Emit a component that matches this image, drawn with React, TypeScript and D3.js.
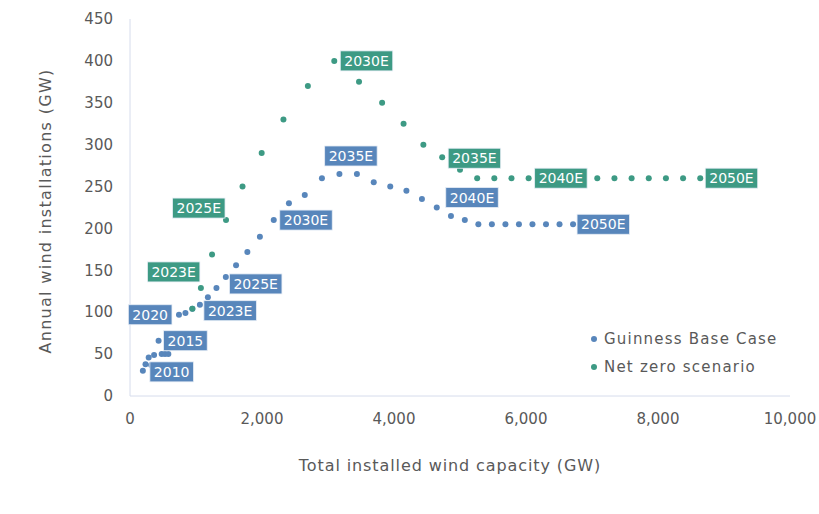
import React, { useEffect, useRef } from 'react';
import * as d3 from 'd3';

// Guinness Base Case: year, total installed capacity (GW), annual installations (GW)
const baseYears = ['2010', '2011', '2012', '2013', '2014', '2015', '2016', '2017', '2018', '2019', '2020', '2021', '2022',
  '2023E', '2024E', '2025E', '2026E', '2027E', '2028E', '2029E', '2030E', '2031E', '2032E', '2033E', '2034E', '2035E',
  '2036E', '2037E', '2038E', '2039E', '2040E', '2041E', '2042E', '2043E', '2044E', '2045E', '2046E', '2047E', '2048E',
  '2049E', '2050E'];
const baseCapacity = [195, 235, 283, 320, 365, 433, 480, 530, 581, 641, 742, 840, 945,
  1059, 1180, 1310, 1452, 1607, 1778, 1968, 2178, 2408, 2648, 2908, 3173, 3438,
  3693, 3943, 4188, 4423, 4648, 4863, 5073, 5278, 5483, 5688, 5893, 6098, 6303, 6508, 6713];
const baseInstalls = [30, 38, 46, 37, 49, 66, 50, 50, 50, 60, 97, 99, 104,
  109, 118, 129, 142, 156, 172, 190, 210, 230, 240, 260, 265, 265,
  255, 250, 245, 235, 225, 215, 210, 205, 205, 205, 205, 205, 205, 205, 205];

// Net zero scenario
const nzYears = ['2022', '2023E', '2024E', '2025E', '2026E', '2027E', '2028E', '2029E', '2030E', '2031E', '2032E',
  '2033E', '2034E', '2035E', '2036E', '2037E', '2038E', '2039E', '2040E', '2041E', '2042E', '2043E', '2044E',
  '2045E', '2046E', '2047E', '2048E', '2049E', '2050E'];
const nzCapacity = [945, 1074, 1243, 1455, 1705, 1995, 2325, 2695, 3095, 3470, 3820,
  4145, 4445, 4730, 5000, 5260, 5520, 5780, 6040, 6300, 6560, 6820, 7080,
  7340, 7600, 7860, 8120, 8380, 8640];
const nzInstalls = [104, 129, 169, 210, 250, 290, 330, 370, 400, 375, 350,
  325, 300, 285, 270, 260, 260, 260, 260, 260, 260, 260, 260,
  260, 260, 260, 260, 260, 260];

const yTicks = [0, 50, 100, 150, 200, 250, 300, 350, 400, 450];
const xTicks = [0, 2000, 4000, 6000, 8000, 10000];

// labelled years and where the label box sits relative to the point
// side: 'r' = box left edge at dx, 'l' = box right edge at dx, 'c' = centred at dx
const baseLabels = [
  { year: '2010', side: 'r', dx: 7, dy: 1 },
  { year: '2015', side: 'r', dx: 5, dy: 0 },
  { year: '2020', side: 'l', dx: -7, dy: 0 },
  { year: '2023E', side: 'r', dx: 4, dy: 6 },
  { year: '2025E', side: 'r', dx: 13, dy: -4 },
  { year: '2030E', side: 'r', dx: 6, dy: 0 },
  { year: '2035E', side: 'c', dx: -6, dy: -18 },
  { year: '2040E', side: 'r', dx: 9, dy: -10 },
  { year: '2050E', side: 'r', dx: 4, dy: 0 },
];
const nzLabels = [
  { year: '2023E', side: 'l', dx: -1, dy: -16 },
  { year: '2025E', side: 'l', dx: -1, dy: -12 },
  { year: '2030E', side: 'r', dx: 6, dy: 0 },
  { year: '2035E', side: 'r', dx: 6, dy: 1 },
  { year: '2040E', side: 'r', dx: 6, dy: 0 },
  { year: '2050E', side: 'r', dx: 5, dy: 0 },
];

const BLUE = '#5886bb';
const GREEN = '#3d9a84';
const FONT = '"DejaVu Sans", sans-serif';
const GREY = '#595959';

export default function App() {
  const ref = useRef<SVGSVGElement>(null);

  useEffect(() => {
    const svg = d3.select(ref.current);
    svg.selectAll('*').remove();

    const x = d3.scaleLinear().domain([0, 10000]).range([130, 790]);
    const y = d3.scaleLinear().domain([0, 450]).range([396, 19]);

    // axis lines
    svg.append('line').attr('x1', 130).attr('x2', 130).attr('y1', y(450)).attr('y2', y(0))
      .attr('stroke', '#d6dcec').attr('stroke-width', 1);
    svg.append('line').attr('x1', 130).attr('x2', x(10000)).attr('y1', y(0)).attr('y2', y(0))
      .attr('stroke', '#d6dcec').attr('stroke-width', 1);

    svg.append('g').selectAll('text').data(yTicks).enter().append('text')
      .attr('x', 113).attr('y', d => y(d)).attr('dy', '0.35em')
      .attr('text-anchor', 'end').attr('font-size', 15).attr('fill', GREY)
      .attr('font-family', FONT).text(d => d);

    svg.append('g').selectAll('text').data(xTicks).enter().append('text')
      .attr('x', d => x(d)).attr('y', 419).attr('dy', '0.35em')
      .attr('text-anchor', 'middle').attr('font-size', 15).attr('fill', GREY)
      .attr('font-family', FONT).text(d => d3.format(',')(d));

    svg.append('text').attr('x', 450).attr('y', 465).attr('dy', '0.35em')
      .attr('text-anchor', 'middle').attr('font-size', 16).attr('fill', GREY)
      .attr('letter-spacing', 0.9)
      .attr('font-family', FONT).text('Total installed wind capacity (GW)');

    svg.append('text').attr('transform', 'translate(45,211) rotate(-90)').attr('dy', '0.35em')
      .attr('text-anchor', 'middle').attr('font-size', 16).attr('fill', GREY)
      .attr('letter-spacing', 1.3)
      .attr('font-family', FONT).text('Annual wind installations (GW)');

    const series = [
      { years: baseYears, xs: baseCapacity, ys: baseInstalls, color: BLUE, labels: baseLabels },
      { years: nzYears, xs: nzCapacity, ys: nzInstalls, color: GREEN, labels: nzLabels },
    ];

    series.forEach(s => {
      svg.append('g').selectAll('circle').data(s.years).enter().append('circle')
        .attr('cx', (_, i) => x(s.xs[i])).attr('cy', (_, i) => y(s.ys[i]))
        .attr('r', 3).attr('fill', s.color);
    });

    series.forEach(s => {
      s.labels.forEach(l => {
        const i = s.years.indexOf(l.year);
        const px = x(s.xs[i]);
        const py = y(s.ys[i]) + l.dy;
        const g = svg.append('g');
        const rect = g.append('rect').attr('fill', s.color).attr('stroke', '#e8eef6').attr('stroke-width', 0.8);
        const t = g.append('text').attr('font-size', 14).attr('fill', '#fff')
          .attr('font-family', FONT).attr('dy', '0.36em').attr('text-anchor', 'middle').text(l.year);
        const w = (t.node() as SVGTextElement).getComputedTextLength() + 8;
        const h = 20;
        let cx = px + l.dx;
        if (l.side === 'r') cx = px + l.dx + w / 2;
        if (l.side === 'l') cx = px + l.dx - w / 2;
        t.attr('x', cx).attr('y', py);
        rect.attr('x', cx - w / 2).attr('y', py - h / 2).attr('width', w).attr('height', h);
      });
    });

    // legend
    const legend = [
      { name: 'Guinness Base Case', color: BLUE },
      { name: 'Net zero scenario', color: GREEN },
    ];
    legend.forEach((d, i) => {
      svg.append('circle').attr('cx', 594).attr('cy', 339 + i * 28).attr('r', 3).attr('fill', d.color);
      svg.append('text').attr('x', 604).attr('y', 339 + i * 28).attr('dy', '0.35em')
        .attr('font-size', 15).attr('fill', GREY).attr('letter-spacing', 1.2)
        .attr('font-family', FONT).text(d.name);
    });
  }, []);

  return (
    <svg ref={ref} width={819} height={514}
      style={{ position: 'absolute', left: 0, top: 0, background: '#fff' }} />
  );
}
